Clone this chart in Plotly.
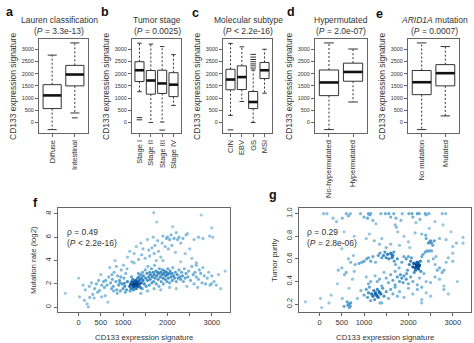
import numpy as np
import plotly.graph_objects as go

W, H = 474, 343
FONT = "Liberation Sans, Arial, sans-serif"
INK = "#333333"
AXIS = "#666666"

# ---------------- box plot panels: CD133 expression signature ----------------
lauren_names = ["Diffuse", "Intestinal"]
lauren_q1 = [570, 1500]
lauren_med = [1110, 1965]
lauren_q3 = [1550, 2340]
lauren_lo = [-290, 390]
lauren_hi = [2760, 3260]
lauren_out_group = ["Intestinal"]
lauren_out_value = [190]

stage_names = ["Stage I", "Stage II", "Stage III", "Stage IV"]
stage_q1 = [1680, 1160, 1190, 1060]
stage_med = [2140, 1720, 1600, 1550]
stage_q3 = [2490, 2130, 2140, 2040]
stage_lo = [1260, 0, 20, 700]
stage_hi = [3250, 3210, 3110, 2780]
stage_out_group = ["Stage I", "Stage I", "Stage III"]
stage_out_value = [200, 110, -310]

subtype_names = ["CIN", "EBV", "GS", "MSI"]
subtype_q1 = [1340, 1350, 570, 1800]
subtype_med = [1760, 1860, 840, 2140]
subtype_q3 = [2180, 2320, 1270, 2460]
subtype_lo = [290, 860, 0, 1200]
subtype_hi = [3240, 3100, 2150, 3000]
subtype_out_group = ["CIN", "GS", "GS", "GS", "GS", "GS", "GS", "GS"]
subtype_out_value = [-300, 2230, 2320, 2400, 2490, 2580, 2680, 2790]

hyper_names = ["No-hypermutated", "Hypermutated"]
hyper_q1 = [1100, 1690]
hyper_med = [1640, 2070]
hyper_q3 = [2150, 2430]
hyper_lo = [-290, 840]
hyper_hi = [3260, 3010]
hyper_out_group = []
hyper_out_value = []

arid_names = ["No mutation", "Mutated"]
arid_q1 = [1140, 1500]
arid_med = [1650, 2020]
arid_q3 = [2130, 2370]
arid_lo = [-290, 270]
arid_hi = [3260, 3110]
arid_out_group = []
arid_out_value = []

box_titles = ["Lauren classification", "Tumor stage", "Molecular subtype",
              "Hypermutated", "<i>ARID1A</i> mutation"]
box_pvalues = ["(<i>P</i> = 3.3e-13)", "(<i>P</i> = 0.0025)", "(<i>P</i> &lt; 2.2e-16)",
               "(<i>P</i> = 2.0e-07)", "(<i>P</i> = 0.0007)"]
box_letters = ["a", "b", "c", "d", "e"]
box_yticks = [0, 500, 1000, 1500, 2000, 2500, 3000]

# ---------------- scatter f: mutation rate vs CD133 signature ----------------
mut_x = [
    -300, 0, 20, 100, 150, 190, 220, 250, 290, 320, 360, 400, 430, 470, 500,
    520, 560, 600, 610, 640, 660, 680, 700, 520, 350, 580, 450, 240, 130,
    720, 740, 760, 780, 800, 820, 840, 860, 880, 900, 920, 940, 960, 980, 1000,
    1020, 1040, 1060, 1080, 1100, 750, 870, 950, 1010, 1050, 790, 1090, 930, 1030, 850,
    1150, 1170, 1180, 1200, 1210, 1220, 1230, 1240, 1250, 1255,
    1260, 1265, 1270, 1275, 1280, 1285, 1290, 1300, 1305, 1310,
    1320, 1330, 1340, 1350, 1360, 1370, 1380, 1390, 1400, 1410,
    1420, 1430, 1440, 1450, 1160, 1190, 1235, 1295, 1345, 1265,
    1460, 1480, 1500, 1510, 1520, 1540, 1550, 1560, 1580, 1590,
    1600, 1610, 1620, 1640, 1650, 1660, 1680, 1690, 1700, 1710,
    1720, 1740, 1750, 1760, 1780, 1790, 1800, 1810, 1820, 1840,
    1850, 1860, 1880, 1890, 1900, 1910, 1920, 1940, 1950, 1960,
    1980, 1990, 2000, 2010, 2020, 2040, 2050, 2060, 2080, 2100,
    2110, 2120, 2140, 2160, 2180, 2200, 2220, 2240, 2260, 2280,
    2300, 2320, 2340, 2360, 2380, 2400, 2420, 2440, 2460, 2480,
    1550, 1700, 1850, 2050, 2200, 1400,
    2520, 2550, 2580, 2600, 2620, 2650, 2680, 2700, 2720, 2750,
    2780, 2800, 2830, 2860, 2900, 2930, 2960, 3000, 3050, 3100,
    3150, 3200, 3300, 2990, 2650,
    1100, 1150, 1200, 1250, 1300, 1350, 1400, 1420, 1450, 1500,
    1550, 1580, 1600, 1650, 1680, 1700, 1720, 1750, 1780, 1800,
    1850, 1880, 1900, 1950, 1980, 2000, 2020, 2050, 2080, 2100,
    2120, 2150, 2180, 2200, 2230, 2260, 2300, 2350, 2400, 2420,
    2450, 2500, 2550, 2600, 2700, 2800, 2950, 3000, 3020, 2300,
    1900, 1250, 2650,
    1690, 2760, 1760,
]
mut_y = [
    1.2, 2.5, 0.9, 1.9, 1.5, 0.3, 0.05, 0.85, 2.1, 1.1, 1.6, 2.0, 1.3, 1.45, 2.8,
    1.9, 2.2, 1.0, 2.3, 1.9, 0.45, 2.6, 3.4, 0.9, 0.8, 1.7, 2.3, 1.8, 0.6,
    2.1, 1.6, 2.4, 1.8, 3.0, 4.0, 2.2, 1.5, 2.7, 1.9, 2.3, 1.4, 3.2, 2.0, 1.6,
    2.5, 1.8, 2.9, 1.5, 2.2, 2.8, 1.2, 2.6, 3.6, 1.3, 1.4, 3.3, 2.1, 2.05, 3.5,
    1.8, 2.0, 1.6, 2.2, 1.9, 2.4, 1.7, 2.0, 2.1, 1.85,
    1.95, 2.05, 1.8, 2.0, 2.15, 1.9, 2.3, 2.0, 1.75, 2.1,
    1.95, 2.5, 2.2, 1.8, 2.6, 2.0, 2.35, 1.7, 2.8, 2.1,
    2.5, 1.6, 3.0, 2.3, 1.4, 2.6, 1.5, 1.6, 2.9, 2.25,
    2.7, 2.0, 3.2, 2.5, 1.8, 2.9, 2.3, 3.5, 2.6, 1.9,
    3.0, 2.4, 2.8, 3.3, 2.1, 2.6, 3.0, 2.2, 2.8, 3.6,
    2.5, 3.1, 2.0, 2.7, 3.0, 2.4, 2.9, 1.8, 3.3, 2.6,
    3.0, 2.2, 2.8, 3.2, 2.5, 2.0, 2.9, 3.1, 2.4, 2.7,
    3.0, 2.2, 2.8, 3.3, 2.5, 2.9, 2.1, 3.1, 2.6, 2.9,
    2.3, 3.4, 2.7, 2.5, 3.0, 2.2, 2.8, 2.5, 3.2, 2.6,
    2.4, 3.0, 2.7, 2.2, 3.3, 2.5, 2.9, 1.8, 2.6, 3.1,
    1.4, 1.6, 1.5, 1.7, 1.6, 1.2,
    2.3, 3.5, 2.8, 2.0, 3.0, 2.6, 1.7, 2.4, 3.2, 2.9,
    2.1, 3.4, 2.7, 2.0, 2.5, 3.0, 1.9, 2.7, 2.2, 1.9,
    2.8, 1.6, 3.1, 2.0, 3.6,
    4.3, 4.8, 3.9, 4.6, 5.2, 4.1, 5.5, 4.5, 5.0, 4.2,
    5.8, 4.9, 4.4, 5.1, 6.0, 4.6, 5.3, 4.0, 5.7, 4.8,
    4.3, 5.5, 6.1, 5.2, 5.9, 6.0, 5.0, 5.8, 6.2, 5.3,
    6.9, 5.9, 4.7, 6.4, 5.8, 6.0, 5.5, 5.9, 4.6, 6.2,
    6.3, 5.0, 4.2, 5.8, 6.0, 5.9, 6.1, 6.8, 6.0, 3.9,
    4.0, 3.8, 3.8,
    8.1, 7.9, 7.3,
]

# ---------------- scatter g: tumor purity vs CD133 signature ----------------
pur_x = [
    90, 165, 600, 690, 920, 1100, 1150, 1380, 1480, 1560,
    1670, 1860, 2010, 2080, 2200, 2240, 2380, 2460, 2760, 2840,
    510, 650, 1000, 1080, 1130, 550, 1270, 1200, 1720, 1700,
    1730, 2100, 2170, 2260, 2470, 2780, 2960, 380, 300, 1600,
    1830, 2400, 2600,
    780, 1050, 1120, 1230, 1350, 1500, 1760, 1800, 1900, 2000,
    2030, 2150, 2300, 2400, 2450, 2500, 2520, 2550, 2580, 2700,
    2850, 3080, 3230, 3230, 3000, 1400, 500, 1600, 2390, 2480,
    890, 950, 1000, 1060, 1100, 1150, 1200, 1260, 1320, 1360,
    1400, 1440, 1470, 1500, 1530, 1560, 1600, 1640, 1680, 1710,
    1750, 1790, 1850, 1900, 1950, 2000, 2020, 2050, 2070, 2100,
    2120, 2150, 2160, 2180, 2200, 2210, 2230, 2250, 2270, 2300,
    2330, 2380, 2420, 2470, 2520, 2560, 2600, 2650, 2700, 2760,
    2800, 2850, 3000, 3000, 2900, 2620, 2450, 2350, 2280, 2130,
    1980, 650, 700, 800, 500, 600, 760, 420,
    560, 740, 780, 1050, 1100, 1150, 1250, 1300, 1350, 1400,
    1450, 1500, 1550, 1600, 1650, 1700, 1750, 1800, 1850, 1880,
    1900, 1950, 2000, 2050, 2100, 2200, 2250, 2300, 2400, 2500,
    2600, 2700, 2800, 3100, 400, 1960, 1820, 1700,
    -320, 20, 45, 210, 260, 510, 620, 550, 660, 690,
    850, 930, 660, 1000, 1050, 1080, 1100, 1120, 1150, 1170,
    1200, 1220, 1240, 1260, 1280, 1300, 1320, 1340, 1360, 1380,
    1400, 1420, 1450, 1500, 1550, 1600, 1650, 1700, 1750, 1800,
    1900, 2000, 2100, 2200, 2300, 2400, 2500, 2800, 2900, 2300,
    2180, 2200, 2220, 2240, 2190, 2210, 1620, 1650, 1670, 1630,
    640, 670, 700, 1250, 1300, 1350,
]
pur_y = [
    1.0, 1.0, 1.0, 1.0, 1.0, 1.0, 1.0, 1.0, 1.0, 1.0,
    1.0, 1.0, 1.0, 1.0, 1.0, 1.0, 1.0, 1.0, 1.0, 1.0,
    0.96, 0.98, 0.97, 0.96, 0.99, 0.84, 0.91, 0.94, 0.96, 0.90,
    0.88, 0.97, 0.92, 0.95, 0.87, 0.90, 0.84, 0.93, 0.96, 0.97,
    0.94, 0.99, 0.93,
    0.80, 0.78, 0.82, 0.76, 0.73, 0.70, 0.84, 0.72, 0.80, 0.75,
    0.70, 0.83, 0.82, 0.78, 0.74, 0.76, 0.74, 0.72, 0.76, 0.78,
    0.77, 0.74, 0.79, 0.74, 0.71, 0.78, 0.69, 0.73, 0.81, 0.75,
    0.56, 0.57, 0.58, 0.60, 0.61, 0.58, 0.62, 0.57, 0.63, 0.65,
    0.61, 0.63, 0.66, 0.61, 0.64, 0.60, 0.65, 0.62, 0.58, 0.55,
    0.60, 0.52, 0.57, 0.62, 0.60, 0.62, 0.55, 0.58, 0.61, 0.53,
    0.56, 0.52, 0.50, 0.55, 0.53, 0.57, 0.51, 0.54, 0.58, 0.62,
    0.64, 0.66, 0.67, 0.67, 0.67, 0.60, 0.55, 0.50, 0.52, 0.48,
    0.50, 0.57, 0.65, 0.58, 0.61, 0.62, 0.58, 0.47, 0.49, 0.48,
    0.50, 0.60, 0.57, 0.55, 0.52, 0.48, 0.63, 0.50,
    0.46, 0.42, 0.49, 0.44, 0.38, 0.40, 0.45, 0.40, 0.42, 0.36,
    0.48, 0.43, 0.39, 0.46, 0.41, 0.37, 0.44, 0.40, 0.43, 0.39,
    0.45, 0.42, 0.38, 0.44, 0.40, 0.37, 0.43, 0.35, 0.40, 0.39,
    0.44, 0.42, 0.36, 0.40, 0.38, 0.47, 0.46, 0.49,
    0.22, 0.25, 0.17, 0.21, 0.28, 0.25, 0.22, 0.18, 0.20, 0.18,
    0.25, 0.32, 0.34, 0.28, 0.33, 0.26, 0.30, 0.35, 0.23, 0.29,
    0.27, 0.32, 0.24, 0.30, 0.28, 0.33, 0.26, 0.31, 0.21, 0.29,
    0.21, 0.34, 0.27, 0.31, 0.25, 0.33, 0.29, 0.35, 0.27, 0.31,
    0.26, 0.34, 0.29, 0.33, 0.24, 0.30, 0.27, 0.33, 0.29, 0.21,
    0.54, 0.56, 0.53, 0.55, 0.57, 0.52, 0.64, 0.63, 0.66, 0.61,
    0.19, 0.17, 0.21, 0.29, 0.27, 0.30,
]

scatter_xticks = [0, 500, 1000, 1500, 2000, 2500, 3000]
scatter_xticklabels = ["0", "500", "1000", "", "2000", "", "3000"]
mut_yticks = [0, 2, 4, 6, 8]
pur_yticks = [0.2, 0.4, 0.6, 0.8, 1.0]
pur_yticklabels = ["0.2", "0.4", "0.6", "0.8", "1.0"]

# densCols-style palette (blues9 without the three lightest shades)
BLUES = ["#9ECAE1", "#6BAED6", "#4292C6", "#2171B5", "#08519C", "#08306B"]


def px_x(v):
    return v / W


def px_y(v):
    return 1 - v / H


def local_density(x, y, xr, yr, bw=0.03):
    u = (np.asarray(x, float) - xr[0]) / (xr[1] - xr[0])
    v = (np.asarray(y, float) - yr[0]) / (yr[1] - yr[0])
    d2 = (u[:, None] - u[None, :]) ** 2 + (v[:, None] - v[None, :]) ** 2
    d = np.exp(-d2 / (2 * bw * bw)).sum(axis=1)
    return (d - d.min()) / (d.max() - d.min())


fig = go.Figure()
annotations = []

axis_base = dict(showline=True, mirror=True, linecolor=AXIS, linewidth=1,
                 ticks="outside", ticklen=3, tickwidth=1, tickcolor=AXIS,
                 showgrid=False, zeroline=False, fixedrange=True,
                 tickfont=dict(family=FONT, color=INK))

box_frames = [(39, 88), (132, 181), (223, 272), (315, 367), (408, 459)]
title_centers = [59, 157, 248, 341, 434]
BOX_TOP, BOX_BOTTOM = 39, 133
BOX_YRANGE = [-430, 3420]

box_panels = [
    (lauren_names, lauren_q1, lauren_med, lauren_q3, lauren_lo, lauren_hi,
     lauren_out_group, lauren_out_value),
    (stage_names, stage_q1, stage_med, stage_q3, stage_lo, stage_hi,
     stage_out_group, stage_out_value),
    (subtype_names, subtype_q1, subtype_med, subtype_q3, subtype_lo, subtype_hi,
     subtype_out_group, subtype_out_value),
    (hyper_names, hyper_q1, hyper_med, hyper_q3, hyper_lo, hyper_hi,
     hyper_out_group, hyper_out_value),
    (arid_names, arid_q1, arid_med, arid_q3, arid_lo, arid_hi,
     arid_out_group, arid_out_value),
]

for k, (names, q1, med, q3, lo, hi, og, ov) in enumerate(box_panels):
    n = k + 1
    xa = "x" if n == 1 else f"x{n}"
    ya = "y" if n == 1 else f"y{n}"
    pos = list(range(1, len(names) + 1))
    half, cap = 0.4, 0.2

    wx, wy, cx, cy, bx, by, mx, my = [], [], [], [], [], [], [], []
    for p, a, m, b, l, h in zip(pos, q1, med, q3, lo, hi):
        wx += [p, p, None, p, p, None]
        wy += [b, h, None, a, l, None]
        cx += [p - cap, p + cap, None, p - cap, p + cap, None]
        cy += [h, h, None, l, l, None]
        bx += [p - half, p + half, p + half, p - half, p - half, None]
        by += [a, a, b, b, a, None]
        mx += [p - half, p + half, None]
        my += [m, m, None]

    common = dict(xaxis=xa, yaxis=ya, hoverinfo="skip", showlegend=False)
    fig.add_trace(go.Scatter(x=wx, y=wy, mode="lines",
                             line=dict(color=INK, width=1, dash="2px,2px"), **common))
    fig.add_trace(go.Scatter(x=cx, y=cy, mode="lines",
                             line=dict(color=INK, width=1), **common))
    fig.add_trace(go.Scatter(x=bx, y=by, mode="lines", fill="toself",
                             fillcolor="white", line=dict(color=INK, width=1), **common))
    fig.add_trace(go.Scatter(x=mx, y=my, mode="lines",
                             line=dict(color="#111111", width=2.6), **common))
    if og:
        ox = [names.index(g) + 1 for g in og]
        fig.add_trace(go.Scatter(x=ox, y=ov, mode="markers",
                                 marker=dict(symbol="line-ew", size=4,
                                             line=dict(color=INK, width=1)),
                                 **common))

    left, right = box_frames[k]
    m_ = len(names)
    fig.layout[f"xaxis{'' if n == 1 else n}"] = dict(
        axis_base, domain=[px_x(left), px_x(right)], anchor=ya,
        range=[0.5 - 0.04 * m_, m_ + 0.5 + 0.04 * m_],
        tickvals=pos, ticktext=names, tickangle=-90,
        tickfont=dict(family=FONT, color=INK, size=7.5))
    fig.layout[f"yaxis{'' if n == 1 else n}"] = dict(
        axis_base, domain=[px_y(BOX_BOTTOM), px_y(BOX_TOP)], anchor=xa,
        range=BOX_YRANGE, tickvals=box_yticks,
        tickfont=dict(family=FONT, color=INK, size=5.5))

    tc = title_centers[k]
    annotations += [
        dict(x=px_x(tc), y=px_y(20), text=box_titles[k], font=dict(size=8.5)),
        dict(x=px_x(tc), y=px_y(31.5), text=box_pvalues[k], font=dict(size=8.5)),
        dict(x=px_x(left - 26), y=px_y((BOX_TOP + BOX_BOTTOM) / 2),
             text="CD133 expression signature", textangle=-90, font=dict(size=8.5)),
    ]

letter_pos = [(10, 12), (105, 12), (195, 13), (291, 12), (379, 14)]
for (lx, ly), t in zip(letter_pos, box_letters):
    annotations.append(dict(x=px_x(lx), y=px_y(ly), text=f"<b>{t}</b>",
                            font=dict(size=12.5, color="#111111")))

# ---------------- scatter panels ----------------
SC_TOP, SC_BOTTOM = 208, 312
SC_XRANGE = [-465, 3410]
MUT_YRANGE = [-0.4, 8.5]
PUR_YRANGE = [0.13, 1.05]

scatter_panels = [
    (6, (58, 230), mut_x, mut_y, MUT_YRANGE, mut_yticks, [str(t) for t in mut_yticks],
     "Mutation rate (log2)", "ρ = 0.49", "(<i>P</i> &lt; 2.2e-16)", "f", (35, 203), 65),
    (7, (299, 471), pur_x, pur_y, PUR_YRANGE, pur_yticks, pur_yticklabels,
     "Tumor purity", "ρ = 0.29", "(<i>P</i> = 2.8e-06)", "g", (273, 195), 305),
]

for n, (left, right), xs, ys, yr, ytv, ytt, ylab, rho, pval, let, lpos, tx in scatter_panels:
    xa, ya = f"x{n}", f"y{n}"
    dens = local_density(xs, ys, SC_XRANGE, yr)
    fig.add_trace(go.Scatter(
        x=xs, y=ys, mode="markers", xaxis=xa, yaxis=ya, showlegend=False,
        hoverinfo="skip",
        marker=dict(size=3.2, color=dens, cmin=0, cmax=1.1,
                    colorscale=[[i / (len(BLUES) - 1), c] for i, c in enumerate(BLUES)],
                    line=dict(width=0))))
    fig.layout[f"xaxis{n}"] = dict(
        axis_base, domain=[px_x(left), px_x(right)], anchor=ya, range=SC_XRANGE,
        tickvals=scatter_xticks, ticktext=scatter_xticklabels,
        tickfont=dict(family=FONT, color=INK, size=7.5))
    fig.layout[f"yaxis{n}"] = dict(
        axis_base, domain=[px_y(SC_BOTTOM), px_y(SC_TOP)], anchor=xa, range=yr,
        tickvals=ytv, ticktext=ytt, tickangle=-90,
        tickfont=dict(family=FONT, color=INK, size=7.5))
    annotations += [
        dict(x=px_x((left + right) / 2), y=px_y(337), text="CD133 expression signature",
             font=dict(size=7.8)),
        dict(x=px_x(left - 25), y=px_y((SC_TOP + SC_BOTTOM) / 2), text=ylab,
             textangle=-90, font=dict(size=7.8)),
        dict(x=px_x(tx), y=px_y(232), text=rho, xanchor="left", font=dict(size=8.5)),
        dict(x=px_x(tx), y=px_y(243), text=pval, xanchor="left", font=dict(size=8.5)),
        dict(x=px_x(lpos[0]), y=px_y(lpos[1]), text=f"<b>{let}</b>",
             font=dict(size=12.5, color="#111111")),
    ]

for a in annotations:
    a.setdefault("xanchor", "center")
    a["xref"] = "paper"
    a["yref"] = "paper"
    a["yanchor"] = "middle"
    a["showarrow"] = False
    f = a["font"]
    f.setdefault("color", INK)
    f["family"] = FONT

fig.update_layout(
    width=W, height=H, autosize=False,
    margin=dict(l=0, r=0, t=0, b=0),
    paper_bgcolor="white", plot_bgcolor="white",
    annotations=annotations,
    showlegend=False,
)

fig.write_html("out.html", config={"displayModeBar": False})
